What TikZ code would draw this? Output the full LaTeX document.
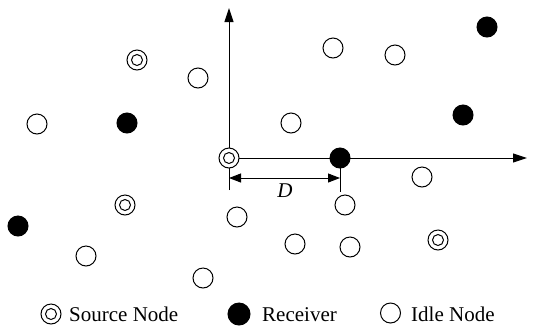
\documentclass[tikz,border=0pt]{standalone}
\usepackage{fontspec}
\setmainfont{Liberation Serif}
\usetikzlibrary{arrows.meta}
\begin{document}
\begin{tikzpicture}[x=1pt,y=-1pt,
  idle/.style={circle,draw,line width=1pt,minimum size=20pt,inner sep=0pt},
  recv/.style={circle,fill,draw,line width=1pt,minimum size=20pt,inner sep=0pt},
  src/.style={circle,draw,line width=1pt,minimum size=20pt,inner sep=0pt,
    path picture={\draw[line width=1pt] (path picture bounding box.center) circle (5.5pt);}},
  ln/.style={line width=1pt},
  lbl/.style={font=\fontsize{21}{24}\selectfont,anchor=base west,inner sep=0pt}]
\useasboundingbox (0,0) rectangle (537,325);
% idle nodes
\node[idle] (i1) at (333,48) {};
\node[idle] (i2) at (395,55) {};
\node[idle] (i3) at (198,78) {};
\node[idle] (i4) at (37,124) {};
\node[idle] (i5) at (291,123) {};
\node[idle] (i6) at (422,177) {};
\node[idle] (i7) at (237,217) {};
\node[idle] (i8) at (345,205) {};
\node[idle] (i9) at (86,256) {};
\node[idle] (i10) at (295,244) {};
\node[idle] (i11) at (350,247) {};
\node[idle] (i12) at (203,278) {};
% receivers
\node[recv] (r1) at (487,27) {};
\node[recv] (r2) at (127,123) {};
\node[recv] (r3) at (463,115) {};
\node[recv] (r5) at (18,226) {};
% sources
\node[src] (s1) at (137,60) {};
\node[src] (s3) at (125,205) {};
\node[src] (s4) at (438,240) {};
% axes
\coordinate (top) at (229,8);
\coordinate (right) at (527,158);
\coordinate (o) at (229,158);
\draw[ln,-{Triangle[length=14pt,width=9pt]}] (229,190) -- (top);
\draw[ln,-{Triangle[length=14pt,width=9pt]}] (o) -- (right);
\node[recv] (r4) at (340,158) {};
\node[src,fill=white] (s2) at (o) {};
% dimension
\coordinate (d1) at (229,178);
\coordinate (d2) at (340,178);
\draw[ln] (r4.center) -- (340,192);
\draw[ln,{Triangle[length=12pt,width=9pt]}-{Triangle[length=12pt,width=9pt]}] (d1) -- (d2);
\node[font=\fontsize{21}{24}\selectfont\itshape,inner sep=0pt] (D) at (285,191) {D};
% legend
\node[src] (ls) at (51,314) {};
\node[lbl] (lst) at (69,321.5) {Source Node};
\node[recv,minimum size=22pt] (lr) at (239,314) {};
\node[lbl] (lrt) at (262,321.5) {Receiver};
\node[idle] (li) at (390.5,313) {};
\node[lbl] (lit) at (411,321.5) {Idle Node};
\end{tikzpicture}
\end{document}
